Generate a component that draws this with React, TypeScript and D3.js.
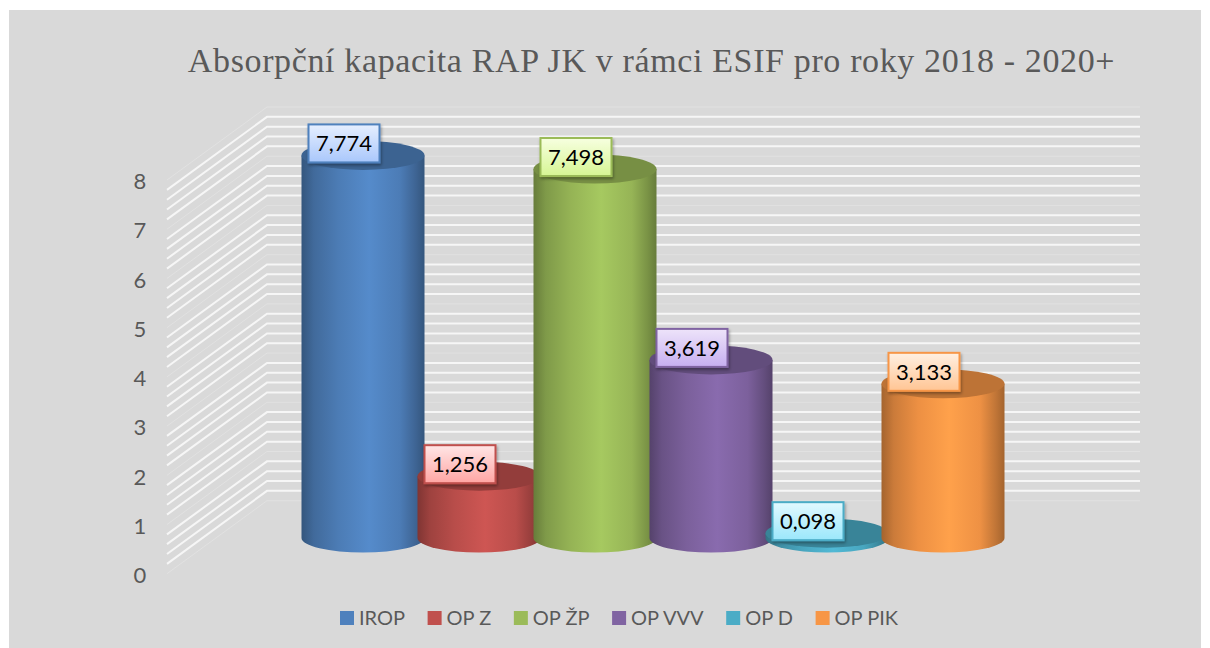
import { useEffect, useRef } from 'react';
import * as d3 from 'd3';

const categories = ['IROP', 'OP Z', 'OP ŽP', 'OP VVV', 'OP D', 'OP PIK'];
const values = [7.774, 1.256, 7.498, 3.619, 0.098, 3.133];
const valueLabels = ['7,774', '1,256', '7,498', '3,619', '0,098', '3,133'];
const baseColors = ['#4f81bd', '#c0504d', '#9bbb59', '#8064a2', '#4bacc6', '#f79646'];
const labelTops = ['#e6efff', '#ffe6e6', '#f7ffe0', '#eee4fa', '#e2f9ff', '#fff0e2'];
const labelBottoms = ['#a9c7fb', '#ffa5a3', '#d6f593', '#c6aef0', '#9be7fb', '#ffc594'];
const yTicks = [0, 1, 2, 3, 4, 5, 6, 7, 8];
const title = 'Absorpční kapacita RAP JK v rámci ESIF pro roky 2018 - 2020+';

const WIDTH = 1210;
const HEIGHT = 648;

export default function App() {
  const svgRef = useRef<SVGSVGElement>(null);

  useEffect(() => {
    const svg = d3.select(svgRef.current);
    svg.selectAll('*').remove();

    const sans = 'Lato, "Open Sans", sans-serif';

    svg.append('rect')
      .attr('x', 9).attr('y', 10)
      .attr('width', 1192).attr('height', 638)
      .attr('fill', '#d9d9d9');

    svg.append('text')
      .attr('x', 651.5).attr('y', 72)
      .attr('text-anchor', 'middle')
      .attr('font-family', '"Liberation Serif", serif')
      .attr('font-size', 34)
      .attr('letter-spacing', 0.63)
      .attr('fill', '#595959')
      .text(title);

    // back wall runs along y, floor of the cylinders sits lower by the same scale
    const wallY = d3.scaleLinear().domain([0, 8]).range([500.7, 107]);
    const barY = d3.scaleLinear().domain([0, 8]).range([538, 144.3]);
    const wallDepth = { dx: -100, dy: 73 };
    const wallLeft = 267;
    const wallRight = 1140;

    const grid = svg.append('g');
    wallY.ticks(40).forEach((t) => {
      const major = Math.abs(t - Math.round(t)) < 1e-6;
      const y = wallY(t);
      grid.append('path')
        .attr('d', `M${wallLeft + wallDepth.dx},${y + wallDepth.dy}L${wallLeft},${y}L${wallRight},${y}`)
        .attr('fill', 'none')
        .attr('stroke', major ? '#e1e1e1' : '#f6f6f6')
        .attr('stroke-width', major ? 1 : 2);
    });

    // y axis labels follow the front edge of the side wall
    const axisY = d3.scaleLinear().domain([0, 8]).range([575.5, 181.5]);
    svg.append('g')
      .selectAll('text')
      .data(yTicks)
      .join('text')
      .attr('x', 140)
      .attr('y', (d) => axisY(d))
      .attr('dy', '0.35em')
      .attr('text-anchor', 'middle')
      .attr('font-family', sans)
      .attr('font-size', 22)
      .attr('fill', '#595959')
      .text((d) => String(d));

    const x = d3.scaleBand<string>()
      .domain(categories)
      .range([305, 1001])
      .padding(0);

    const rx = 61.5;
    const ry = 14.5;

    const defs = svg.append('defs');
    categories.forEach((_, i) => {
      const base = d3.color(baseColors[i])!;
      const g = defs.append('linearGradient').attr('id', `side-${i}`);
      const stops: [number, string][] = [
        [0, base.darker(1.15).formatHex()],
        [0.1, base.darker(0.55).formatHex()],
        [0.3, base.darker(0.12).formatHex()],
        [0.55, base.brighter(0.2).formatHex()],
        [0.8, base.darker(0.1).formatHex()],
        [0.93, base.darker(0.7).formatHex()],
        [1, base.darker(1.15).formatHex()],
      ];
      stops.forEach(([o, c]) => g.append('stop').attr('offset', o).attr('stop-color', c));

      const l = defs.append('linearGradient')
        .attr('id', `label-${i}`)
        .attr('x1', 0).attr('y1', 0).attr('x2', 0).attr('y2', 1);
      l.append('stop').attr('offset', 0).attr('stop-color', labelTops[i]);
      l.append('stop').attr('offset', 1).attr('stop-color', labelBottoms[i]);
    });

    const shadow = defs.append('filter').attr('id', 'label-shadow')
      .attr('x', '-10%').attr('y', '-10%').attr('width', '125%').attr('height', '130%');
    shadow.append('feDropShadow')
      .attr('dx', 1).attr('dy', 2).attr('stdDeviation', 1.6)
      .attr('flood-color', '#000').attr('flood-opacity', 0.35);

    // cylinders, left to right so each one overlaps the previous
    categories.forEach((cat, i) => {
      const cx = x(cat)! + x.bandwidth() / 2;
      const top = barY(values[i]);
      const bottom = barY(0);
      const base = d3.color(baseColors[i])!;
      const g = svg.append('g');

      g.append('path')
        .attr('d',
          `M${cx - rx},${top}L${cx - rx},${bottom}` +
          `A${rx},${ry} 0 0 0 ${cx + rx},${bottom}` +
          `L${cx + rx},${top}Z`)
        .attr('fill', `url(#side-${i})`);

      g.append('ellipse')
        .attr('cx', cx).attr('cy', top)
        .attr('rx', rx).attr('ry', ry)
        .attr('fill', base.darker(0.75).formatHex());
    });

    // value labels sit after all cylinders
    categories.forEach((cat, i) => {
      const cx = x(cat)! + x.bandwidth() / 2 - 19;
      const cy = barY(values[i]) - 12;
      const g = svg.append('g');
      g.append('rect')
        .attr('x', cx - 35.5).attr('y', cy - 19)
        .attr('width', 71).attr('height', 38)
        .attr('fill', `url(#label-${i})`)
        .attr('stroke', baseColors[i])
        .attr('stroke-width', 2)
        .attr('filter', 'url(#label-shadow)');
      g.append('text')
        .attr('x', cx).attr('y', cy)
        .attr('dy', '0.36em')
        .attr('text-anchor', 'middle')
        .attr('font-family', sans)
        .attr('font-size', 22)
        .attr('fill', '#000')
        .text(valueLabels[i]);
    });

    // legend, laid out from the measured text widths
    const legend = svg.append('g');
    let lx = 340;
    const legendY = 618;
    categories.forEach((cat, i) => {
      legend.append('rect')
        .attr('x', lx).attr('y', legendY - 7)
        .attr('width', 14).attr('height', 14)
        .attr('fill', baseColors[i]);
      const t = legend.append('text')
        .attr('x', lx + 19).attr('y', legendY)
        .attr('dy', '0.35em')
        .attr('font-family', sans)
        .attr('font-size', 20)
        .attr('fill', '#595959')
        .text(cat);
      lx += 19 + (t.node() as SVGTextElement).getComputedTextLength() + 22.6;
    });
  }, []);

  return (
    <svg
      ref={svgRef}
      width={WIDTH}
      height={HEIGHT}
      style={{ position: 'absolute', left: 0, top: 0, background: '#fff' }}
    />
  );
}
